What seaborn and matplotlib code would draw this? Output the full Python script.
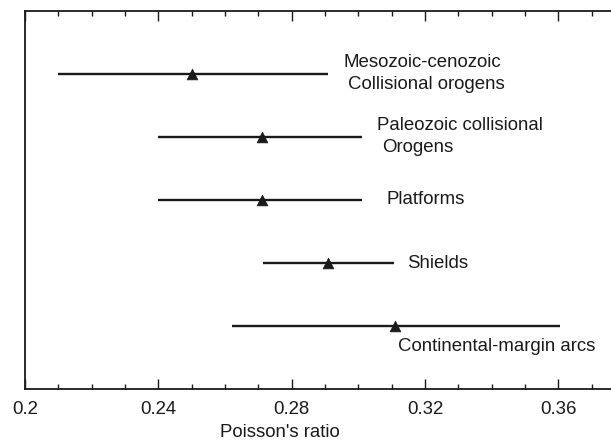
import matplotlib
matplotlib.use("Agg")
import matplotlib.pyplot as plt
import seaborn as sns
import pandas as pd
from matplotlib.ticker import MultipleLocator, FixedLocator

sns.set_theme(style="white")
plt.rcParams['font.family'] = ['Liberation Sans', 'DejaVu Sans']

categories = ["Mesozoic-cenozoic\nCollisional orogens",
              "Paleozoic collisional\nOrogens",
              "Platforms", "Shields", "Continental-margin arcs"]
low = [0.21, 0.24, 0.24, 0.2715, 0.262]
high = [0.291, 0.301, 0.301, 0.3107, 0.3605]
mean = [0.25, 0.271, 0.271, 0.291, 0.311]
tick_values = [0.2, 0.24, 0.28, 0.32, 0.36]
tick_labels = ["0.2", "0.24", "0.28", "0.32", "0.36"]

df = pd.DataFrame({"group": categories, "low": low, "high": high,
                   "mean": mean, "pos": range(len(categories))})

fig = plt.figure(figsize=(6.11, 4.40), dpi=100)
ax = fig.add_axes([25/611, 1-389/440, 600/611, 378/440])

ink = "#1a1a1a"
ax.hlines(df["pos"], df["low"], df["high"], color=ink, lw=1.7)
sns.scatterplot(data=df, x="mean", y="pos", marker="^", s=60, color=ink,
                edgecolor=ink, linewidth=0.5, ax=ax, zorder=3, legend=False)

fs = 13.4
ax.text(0.2955, 0 - 0.19, "Mesozoic-cenozoic", fontsize=fs, va="center", color=ink)
ax.text(0.2970, 0 + 0.17, "Collisional orogens", fontsize=fs, va="center", color=ink)
ax.text(0.3056, 1 - 0.19, "Paleozoic collisional", fontsize=fs, va="center", color=ink)
ax.text(0.3071, 1 + 0.17, "Orogens", fontsize=fs, va="center", color=ink)
ax.text(0.3086, 2, "Platforms", fontsize=fs, va="center", color=ink)
ax.text(0.3145, 3, "Shields", fontsize=fs, va="center", color=ink)
ax.text(0.3119, 4 + 0.33, "Continental-margin arcs", fontsize=fs, va="center", color=ink)

ax.set_xlim(0.2, 0.38)
ax.set_ylim(5, -1)
ax.set_yticks([])
ax.set_ylabel("")
ax.xaxis.set_major_locator(FixedLocator(tick_values))
ax.set_xticklabels(tick_labels, fontsize=fs, color=ink)
ax.xaxis.set_minor_locator(MultipleLocator(0.01))
ax.tick_params(axis="x", which="major", direction="in", length=7, width=1,
               top=True, bottom=True, color=ink, pad=9)
ax.tick_params(axis="x", which="minor", direction="in", length=3.5, width=1,
               top=True, bottom=True, color=ink)
ax.set_xlabel("Poisson's ratio", fontsize=fs, color=ink)
ax.xaxis.set_label_coords(0.4245, -0.127)
ax.xaxis.label.set_va("baseline")

for side in ["left", "top", "bottom", "right"]:
    ax.spines[side].set_visible(True)
    ax.spines[side].set_color(ink)
    ax.spines[side].set_linewidth(1.3)

fig.savefig("out.png", dpi=100)
